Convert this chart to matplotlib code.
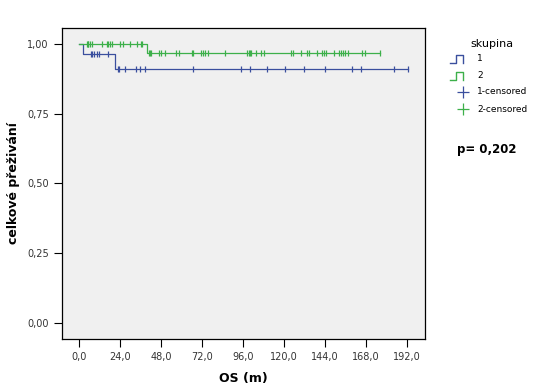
import numpy as np
import matplotlib.pyplot as plt
from matplotlib.lines import Line2D

# survival steps (time in months, survival)
g1_times = [0, 2.3, 21.0]
g1_surv = [1.0, 0.964, 0.91]
g1_end = 192.7
g1_cens = [6.8, 7.6, 8.9, 10.3, 11.8, 17.3,
           22.9, 23.5, 27.0, 33.6, 35.6, 38.7, 66.7, 94.9, 99.8, 110.1,
           120.6, 131.5, 143.7, 160.0, 164.7, 184.0, 192.7]

g2_times = [0, 39.7]
g2_surv = [1.0, 0.969]
g2_end = 176.0
g2_cens = [4.5, 5.1, 5.6, 6.4, 7.8, 13.8, 16.2, 17.3, 18.1, 19.3, 24.3, 25.5,
           29.8, 34.0, 36.6, 36.9,
           41.0, 41.8, 42.4, 46.8, 47.8, 50.2, 57.0, 58.3, 66.3, 66.7, 71.2,
           72.5, 73.9, 75.4, 85.2, 98.4, 99.2, 99.8, 100.8, 103.7, 106.6,
           108.1, 124.1, 125.0, 129.9, 133.2, 134.8, 139.0, 142.2, 143.5,
           144.5, 149.3, 151.9, 153.3, 154.6, 155.8, 157.1, 165.5, 167.4, 176.0]

x_ticks = [0, 24, 48, 72, 96, 120, 144, 168, 192]
y_ticks = [0, 0.25, 0.5, 0.75, 1.0]

blue = '#3a4f9e'
green = '#3db04a'

def surv_at(t, times, surv):
    idx = np.searchsorted(times, t, side='right') - 1
    return np.array(surv)[idx]

fig = plt.figure(figsize=(5.38, 3.92), dpi=100)
ax = fig.add_axes([0.1152, 0.1352, 0.6747, 0.7934])
ax.set_facecolor('#f0f0f0')

for times, surv, end, cens, col in [(g1_times, g1_surv, g1_end, g1_cens, blue),
                                     (g2_times, g2_surv, g2_end, g2_cens, green)]:
    xs = list(times) + [end]
    ys = list(surv) + [surv[-1]]
    ax.step(xs, ys, where='post', color=col, lw=0.9)
    cy = surv_at(np.array(cens), times, surv)
    ax.plot(cens, cy, ls='none', marker='|', ms=5, mew=0.9, color=col)

ax.set_xlim(-9.9, 202.4)
ax.set_ylim(-0.057, 1.057)
ax.set_xticks(x_ticks)
ax.set_xticklabels([f'{v:.1f}'.replace('.', ',') for v in x_ticks])
ax.set_yticks(y_ticks)
ax.set_yticklabels([f'{v:.2f}'.replace('.', ',') for v in y_ticks])
ax.tick_params(labelsize=7, colors='black', length=6, width=0.8, labelcolor='#333333')
for s in ax.spines.values():
    s.set_linewidth(0.9)
ax.set_xlabel('OS (m)', fontsize=9, fontweight='bold', labelpad=7)
ax.set_ylabel('celkové přeživání', fontsize=9, fontweight='bold', labelpad=5)

# legend drawn by hand on the right
W, H = 538.0, 392.0
def fx(p): return p / W
def fy(p): return 1 - p / H

fig.text(fx(470), fy(44), 'skupina', fontsize=8, ha='left', va='center')
for ytop, ybot, col, lab in [(55, 62.7, blue, '1'), (72, 80, green, '2')]:
    fig.add_artist(Line2D([fx(450), fx(456), fx(456), fx(463), fx(463)],
                          [fy(ybot), fy(ybot), fy(ytop), fy(ytop), fy(ybot)],
                          color=col, lw=1.0))
    fig.text(fx(477), fy((ytop + ybot) / 2), lab, fontsize=6.5, va='center')
for yy, col, lab in [(91.7, blue, '1-censored'), (109, green, '2-censored')]:
    fig.add_artist(Line2D([fx(463)], [fy(yy)], marker='+', ms=8, mew=0.9,
                          color=col, ls='none'))
    fig.text(fx(477), fy(yy), lab, fontsize=6.5, va='center')

fig.text(fx(457), fy(150), 'p= 0,202', fontsize=8.5, fontweight='bold', va='center')

fig.savefig('out.png', dpi=100)
